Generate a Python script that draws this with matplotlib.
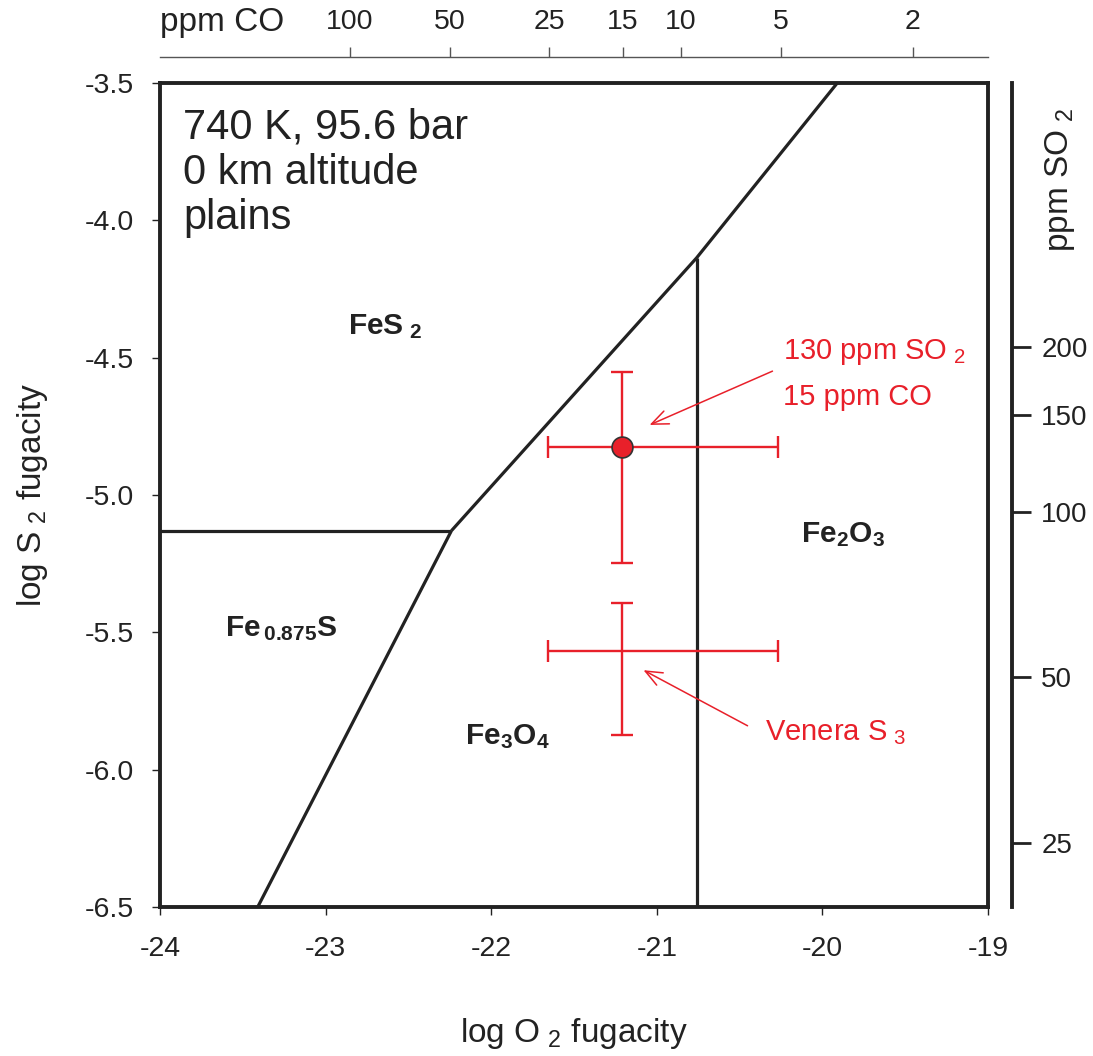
"""Fe-S-O stability diagram at Venus surface conditions (740 K, 95.6 bar)."""

import numpy as np
import matplotlib
import matplotlib.pyplot as plt

matplotlib.use("Agg")

# phase boundaries, log fO2 vs log fS2
po_py_x = [-24.0, -22.24]
po_py_y = [-5.13, -5.13]
po_mt_x = [-22.24, -23.41]
po_mt_y = [-5.13, -6.5]
py_ox_x = [-22.24, -20.76, -19.91]
py_ox_y = [-5.13, -4.137, -3.5]
mt_hm_x = [-20.76, -20.76]
mt_hm_y = [-4.137, -6.5]

# measurements with error ranges
meas_x = [-21.21, -21.21]
meas_x_lo = [-21.657, -21.657]
meas_x_hi = [-20.268, -20.268]
meas_y = [-4.825, -5.568]
meas_y_lo = [-5.248, -5.874]
meas_y_hi = [-4.552, -5.393]

# secondary scales: log fO2 = CO_ZERO - 2 log(ppm CO), log fS2 = 2 log(ppm SO2) + SO2_ZERO
CO_ZERO = -18.853
SO2_ZERO = -9.062
co_ticks = [100, 50, 25, 15, 10, 5, 2]
so2_ticks = [200, 150, 100, 50, 25]

RED = "#e8202a"
INK = "#222222"

plt.rcParams["font.family"] = ["Liberation Sans", "DejaVu Sans"]
plt.rcParams["mathtext.default"] = "regular"
plt.rcParams["axes.unicode_minus"] = False


def to_co(x):
    return 10 ** ((CO_ZERO - np.asarray(x, dtype=float)) / 2)


def from_co(c):
    c = np.clip(np.asarray(c, dtype=float), 1e-12, None)
    return CO_ZERO - 2 * np.log10(c)


def to_so2(y):
    return 10 ** ((np.asarray(y, dtype=float) - SO2_ZERO) / 2)


def from_so2(s):
    s = np.clip(np.asarray(s, dtype=float), 1e-12, None)
    return 2 * np.log10(s) + SO2_ZERO


fig = plt.figure(figsize=(10.93, 10.56), dpi=100)
ax = fig.add_axes([0.1464, 0.1411, 0.7575, 0.7803])

for xs, ys in [(po_py_x, po_py_y), (po_mt_x, po_mt_y), (py_ox_x, py_ox_y), (mt_hm_x, mt_hm_y)]:
    ax.plot(xs, ys, color=INK, lw=2.3, solid_capstyle="butt")

xerr = [np.subtract(meas_x, meas_x_lo), np.subtract(meas_x_hi, meas_x)]
yerr = [np.subtract(meas_y, meas_y_lo), np.subtract(meas_y_hi, meas_y)]
ax.errorbar(meas_x, meas_y, xerr=xerr, yerr=yerr, fmt="none", ecolor=RED,
            elinewidth=1.7, capsize=8, capthick=1.7, zorder=3)
ax.plot(meas_x[0], meas_y[0], "o", ms=15, mfc=RED, mec="#333333", mew=1.2, zorder=4)

ax.set_xlim(-24, -19)
ax.set_ylim(-6.5, -3.5)
ax.set_xticks(range(-24, -18))
ax.set_yticks(np.arange(-6.5, -3.49, 0.5))
ax.yaxis.set_major_formatter(matplotlib.ticker.FormatStrFormatter("%.1f"))
ax.tick_params(axis="both", direction="out", length=6, width=1, color=INK,
               labelsize=20.5, labelcolor=INK)
ax.tick_params(axis="x", pad=15)
ax.tick_params(axis="y", pad=13)
for spine in ax.spines.values():
    spine.set_linewidth(2.8)
    spine.set_color(INK)

ax.set_xlabel("log O$_{\\ 2}$ fugacity", fontsize=24, color=INK, labelpad=39)
ax.set_ylabel("log S$_{\\ 2}$ fugacity", fontsize=24, color=INK, labelpad=25)

# top scale: ppm CO
top = ax.secondary_xaxis(1.0316, functions=(to_co, from_co))
top.set_xticks(co_ticks)
top.set_xticklabels([str(t) for t in co_ticks])
top.tick_params(direction="out", length=7, width=1, color="#555555",
                labelsize=20.5, labelcolor=INK, pad=9)
top.spines["top"].set_linewidth(1.0)
top.spines["top"].set_color("#555555")
ax.text(0.0, 1.073, "ppm CO", transform=ax.transAxes, fontsize=24,
        color=INK, ha="left", va="center")

# right scale: ppm SO2
right = ax.secondary_yaxis(1.029, functions=(to_so2, from_so2))
right.set_yticks(so2_ticks)
right.set_yticklabels([str(t) for t in so2_ticks])
right.tick_params(direction="out", length=14, width=2, color=INK,
                  labelsize=20, labelcolor=INK, pad=7)
right.spines["right"].set_linewidth(2.8)
right.spines["right"].set_color(INK)
ax.text(1.087, 0.882, "ppm SO$_{\\ 2}$", transform=ax.transAxes, fontsize=24,
        color=INK, ha="center", va="center", rotation=90)

# conditions
ax.text(-23.86, -3.59, "740 K, 95.6 bar\n0 km altitude\nplains", fontsize=30,
        color=INK, ha="left", va="top", linespacing=1.16)

# phase labels
bold = dict(fontsize=21.5, fontweight="bold", color=INK, ha="center", va="baseline")
ax.text(-22.64, -4.414, "FeS$_{\\ 2}$", **bold)
ax.text(-23.27, -5.513, "Fe$_{\\,0.875}$S", **bold)
ax.text(-19.876, -5.171, "Fe$_2$O$_3$", **bold)
ax.text(-21.90, -5.907, "Fe$_3$O$_4$", **bold)

# red annotations
red = dict(fontsize=21, color=RED, ha="left", va="center")
ax.text(-20.238, -4.479, "130 ppm SO$_{\\ 2}$", **red)
ax.text(-20.238, -4.643, "15 ppm CO", **red)
ax.text(-20.347, -5.866, "Venera S$_{\\ 3}$", **red)
arrow = dict(arrowstyle="->,head_length=1.2,head_width=0.5", color=RED, lw=1.1)
ax.annotate("", xy=(-21.059, -4.749), xytext=(-20.286, -4.545), arrowprops=arrow)
ax.annotate("", xy=(-21.095, -5.633), xytext=(-20.437, -5.845), arrowprops=arrow)

fig.savefig("out.png", dpi=100)
